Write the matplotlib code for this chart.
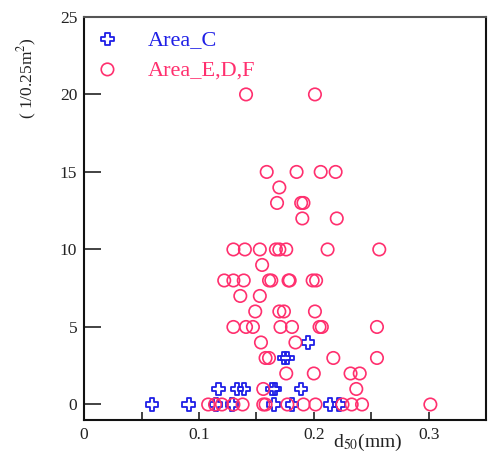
import matplotlib
matplotlib.use("Agg")
from matplotlib import pyplot as plt
from matplotlib.ticker import MultipleLocator

# Area_C (plus markers)
c_d50 = [0.059, 0.091, 0.115, 0.129, 0.165, 0.181, 0.214, 0.222,
         0.117, 0.133, 0.139, 0.164, 0.166, 0.189,
         0.174, 0.177,
         0.195]
c_count = [0, 0, 0, 0, 0, 0, 0, 0,
           1, 1, 1, 1, 1, 1,
           3, 3,
           4]

# Area_E,D,F (circle markers)
edf_d50 = [0.108, 0.114, 0.120, 0.130, 0.138, 0.156, 0.158, 0.177, 0.191, 0.2015,
           0.225, 0.233, 0.242, 0.3015,
           0.156, 0.237,
           0.176, 0.200, 0.232, 0.240,
           0.158, 0.161, 0.217, 0.255,
           0.154, 0.184,
           0.130, 0.141, 0.147, 0.171, 0.181, 0.205, 0.207, 0.255,
           0.149, 0.170, 0.174, 0.201,
           0.136, 0.153,
           0.122, 0.130, 0.139, 0.161, 0.163, 0.178, 0.179, 0.199, 0.202,
           0.155,
           0.130, 0.140, 0.153, 0.167, 0.170, 0.176, 0.212, 0.257,
           0.190, 0.220,
           0.168, 0.189, 0.191,
           0.170,
           0.159, 0.185, 0.206, 0.219,
           0.141, 0.201]
edf_count = [0] * 14 + [1] * 2 + [2] * 4 + [3] * 4 + [4] * 2 + [5] * 8 + [6] * 4 \
    + [7] * 2 + [8] * 9 + [9] * 1 + [10] * 8 + [12] * 2 + [13] * 3 + [14] * 1 \
    + [15] * 4 + [20] * 2

x_ticks = [0, 0.1, 0.2, 0.3]
y_ticks = [0, 5, 10, 15, 20, 25]

blue = "#1f1fe6"
pink = "#ff2f6e"

plt.rcParams["font.family"] = ["Liberation Serif", "DejaVu Serif"]
plt.rcParams["mathtext.fontset"] = "stix"

fig = plt.figure(figsize=(4.89, 4.57), dpi=100)
ax = fig.add_axes([0.172, 0.081, 0.822, 0.882])

h_edf = ax.scatter(edf_d50, edf_count, s=80, marker="o", facecolors="none",
                   edgecolors=pink, linewidths=1.2, label="Area_E,D,F", zorder=3)
h_c = ax.scatter(c_d50, c_count, s=80, marker="P", facecolors="none",
                 edgecolors=blue, linewidths=1.3, label="Area_C", zorder=2)

ax.set_xlim(0, 0.35)
ax.set_ylim(-1, 25)
ax.set_xticks(x_ticks)
ax.set_xticklabels(["0", "0.1", "0.2", "0.3"])
ax.xaxis.set_minor_locator(MultipleLocator(0.05))
ax.set_yticks(y_ticks)

ax.tick_params(axis="x", which="both", direction="in", length=6, width=1.2,
               labelsize=12.5, pad=5, colors="#222222")
ax.tick_params(axis="y", direction="in", length=12, width=1.2,
               labelsize=12.5, pad=5, colors="#222222")

for side in ["left", "right", "bottom"]:
    ax.spines[side].set_linewidth(1.5)
    ax.spines[side].set_color("#111111")
ax.spines["top"].set_linewidth(1.5)
ax.spines["top"].set_color("#555555")

ax.text(0.706, -0.03, r"d$_{50}$(mm)", transform=ax.transAxes,
        ha="center", va="top", fontsize=14, color="#222222")
fig.text(27 / 489, 1 - 78 / 457, r"( 1/0.25m$^2$)", rotation=90,
         ha="center", va="center", fontsize=12.5, color="#222222")

ax.legend(handles=[h_c, h_edf], loc="upper left", bbox_to_anchor=(0.0, 1.0),
          frameon=False, fontsize=16, handlelength=1.0, handletextpad=1.3,
          labelspacing=0.45, borderaxespad=0.0, borderpad=0.55,
          labelcolor=[blue, pink])

fig.savefig("out.png", dpi=100)
